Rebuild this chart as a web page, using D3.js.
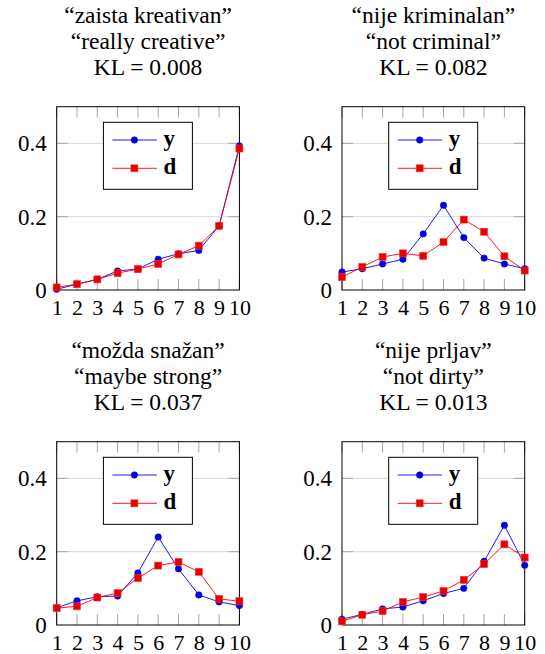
<!DOCTYPE html>
<html>
<head>
<meta charset="utf-8">
<script src="https://cdn.jsdelivr.net/npm/d3@7"></script>
<style>
  body { margin: 0; background: #fff; }
</style>
</head>
<body>
<div id="chart"></div>
<script>
// x categories and y ticks
var categories = [1, 2, 3, 4, 5, 6, 7, 8, 9, 10];
var yTicks = [0, 0.2, 0.4];
var gridTicks = [0.2, 0.4];
var seriesNames = ["y", "d"];

// panel titles
var titlesHr = ["\u201Czaista kreativan\u201D", "\u201Cnije kriminalan\u201D", "\u201Cmo\u017Eda sna\u017Ean\u201D", "\u201Cnije prljav\u201D"];
var titlesEn = ["\u201Creally creative\u201D", "\u201Cnot criminal\u201D", "\u201Cmaybe strong\u201D", "\u201Cnot dirty\u201D"];
var klValues = ["0.008", "0.082", "0.037", "0.013"];

// series values per panel
var yValues1 = [0.002, 0.016, 0.029, 0.052, 0.057, 0.084, 0.099, 0.108, 0.175, 0.393];
var dValues1 = [0.007, 0.016, 0.029, 0.046, 0.057, 0.071, 0.097, 0.121, 0.175, 0.386];
var yValues2 = [0.049, 0.058, 0.071, 0.084, 0.153, 0.231, 0.143, 0.087, 0.071, 0.058];
var dValues2 = [0.035, 0.063, 0.090, 0.100, 0.093, 0.131, 0.192, 0.159, 0.092, 0.053];
var yValues3 = [0.047, 0.066, 0.077, 0.079, 0.142, 0.240, 0.153, 0.082, 0.063, 0.053];
var dValues3 = [0.046, 0.051, 0.075, 0.087, 0.128, 0.162, 0.172, 0.145, 0.071, 0.065];
var yValues4 = [0.016, 0.029, 0.044, 0.049, 0.066, 0.086, 0.100, 0.174, 0.272, 0.163];
var dValues4 = [0.010, 0.028, 0.038, 0.063, 0.076, 0.093, 0.123, 0.166, 0.220, 0.184];

var panelY = [yValues1, yValues2, yValues3, yValues4];
var panelD = [dValues1, dValues2, dValues3, dValues4];

var width = 545, height = 654;
var plotW = 182.7, plotH = 183.3;
var panelLefts = [56.7, 342];
var panelTops = [106.7, 441.7];
var tickLen = 11;
var serif = "'Liberation Serif', 'Times New Roman', serif";

var svg = d3.select("#chart")
    .append("svg")
    .attr("width", width)
    .attr("height", height)
    .style("font-family", serif);

var xScale = d3.scaleLinear()
    .domain([1, 10])
    .range([0, plotW]);

var yScale = d3.scaleLinear()
    .domain([0, 0.5])
    .range([plotH, 0]);

var line = d3.line()
    .x(function(d, i) { return xScale(categories[i]); })
    .y(function(d) { return yScale(d); });

for (var p = 0; p < 4; p++) {
    var px = panelLefts[p % 2];
    var py = panelTops[Math.floor(p / 2)];
    var g = svg.append("g").attr("transform", `translate(${px},${py})`);

    // titles
    var cx = plotW / 2;
    var titleLines = [titlesHr[p], titlesEn[p], "KL = " + klValues[p]];
    var titleY = [-83.5, -57.5, -31.7];
    titleLines.forEach(function(t, i) {
        g.append("text").attr("x", cx).attr("y", titleY[i]).attr("text-anchor", "middle")
            .style("font-family", serif).style("font-size", "23.5px").attr("fill", "#000")
            .text(t);
    });

    // grid lines
    g.selectAll(".grid")
        .data(gridTicks)
        .enter()
        .append("line")
        .attr("x1", 0).attr("x2", plotW)
        .attr("y1", function(d) { return yScale(d); })
        .attr("y2", function(d) { return yScale(d); })
        .attr("stroke", "#d9d9d9")
        .attr("stroke-width", 1);

    // y tick marks left and right
    gridTicks.forEach(function(t) {
        g.append("line").attr("x1", 0).attr("x2", tickLen)
            .attr("y1", yScale(t)).attr("y2", yScale(t))
            .attr("stroke", "#a6a6a6").attr("stroke-width", 1);
        g.append("line").attr("x1", plotW - tickLen).attr("x2", plotW)
            .attr("y1", yScale(t)).attr("y2", yScale(t))
            .attr("stroke", "#a6a6a6").attr("stroke-width", 1);
    });

    // x tick marks top and bottom
    categories.forEach(function(c) {
        g.append("line").attr("x1", xScale(c)).attr("x2", xScale(c))
            .attr("y1", 0).attr("y2", tickLen)
            .attr("stroke", "#a6a6a6").attr("stroke-width", 1);
        g.append("line").attr("x1", xScale(c)).attr("x2", xScale(c))
            .attr("y1", plotH - tickLen).attr("y2", plotH)
            .attr("stroke", "#a6a6a6").attr("stroke-width", 1);
    });

    // axes labels
    var yAxis = g.append("g")
        .call(d3.axisLeft(yScale).tickValues(yTicks).tickSize(0).tickPadding(10)
            .tickFormat(function(d) { return d === 0 ? "0" : d3.format(".1f")(d); }));
    yAxis.attr("font-family", null);
    yAxis.select(".domain").remove();
    yAxis.selectAll("text").style("font-size", "23px").style("font-family", serif).attr("fill", "#000");

    var xAxis = g.append("g")
        .attr("transform", `translate(0,${plotH})`)
        .call(d3.axisBottom(xScale).tickValues(categories).tickSize(0).tickPadding(9)
            .tickFormat(d3.format("d")));
    xAxis.attr("font-family", null);
    xAxis.select(".domain").remove();
    xAxis.selectAll("text").style("font-size", "22px").style("font-family", serif).attr("fill", "#000");

    // frame
    g.append("rect")
        .attr("x", 0).attr("y", 0)
        .attr("width", plotW).attr("height", plotH)
        .attr("fill", "none")
        .attr("stroke", "#000")
        .attr("stroke-width", 1);

    // y series (blue circles)
    g.append("path")
        .datum(panelY[p])
        .attr("d", line)
        .attr("fill", "none")
        .attr("stroke", "#0000ff")
        .attr("stroke-width", 0.9);
    g.selectAll(".ydot")
        .data(panelY[p])
        .enter()
        .append("circle")
        .attr("cx", function(d, i) { return xScale(categories[i]); })
        .attr("cy", function(d) { return yScale(d); })
        .attr("r", 3.2)
        .attr("fill", "#0000e6")
        .attr("stroke", "#0000cc")
        .attr("stroke-width", 0.6);

    // d series (red squares)
    g.append("path")
        .datum(panelD[p])
        .attr("d", line)
        .attr("fill", "none")
        .attr("stroke", "#ff0000")
        .attr("stroke-width", 0.9);
    g.selectAll(".dsq")
        .data(panelD[p])
        .enter()
        .append("rect")
        .attr("x", function(d, i) { return xScale(categories[i]) - 3.5; })
        .attr("y", function(d) { return yScale(d) - 3.5; })
        .attr("width", 7).attr("height", 7)
        .attr("fill", "#e60000")
        .attr("stroke", "#ff3333")
        .attr("stroke-width", 0.6);

    // legend
    var lg = g.append("g").attr("transform", "translate(46.7,15.6)");
    lg.append("rect")
        .attr("width", 89).attr("height", 67)
        .attr("fill", "#fff")
        .attr("stroke", "#000")
        .attr("stroke-width", 1);
    var rows = [17.7, 46];
    var colors = ["#0000ff", "#ff0000"];
    seriesNames.forEach(function(name, i) {
        lg.append("line").attr("x1", 9).attr("x2", 53.5)
            .attr("y1", rows[i]).attr("y2", rows[i])
            .attr("stroke", colors[i]).attr("stroke-width", 0.9);
        if (i === 0) {
            lg.append("circle").attr("cx", 31).attr("cy", rows[i]).attr("r", 3.2)
                .attr("fill", "#0000e6").attr("stroke", "#0000cc").attr("stroke-width", 0.6);
        } else {
            lg.append("rect").attr("x", 27.5).attr("y", rows[i] - 3.5)
                .attr("width", 7).attr("height", 7)
                .attr("fill", "#e60000").attr("stroke", "#ff3333").attr("stroke-width", 0.6);
        }
        lg.append("text").attr("x", 60).attr("y", rows[i] + 6)
            .style("font-family", serif)
            .style("font-size", "23px").style("font-weight", "bold")
            .attr("fill", "#000")
            .text(name);
    });
}
</script>
</body>
</html>
